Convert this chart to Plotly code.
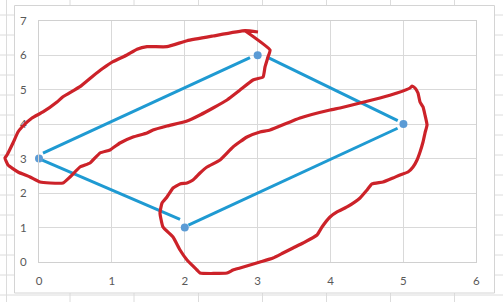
import plotly.graph_objects as go

# ---- data ----
point_x = [0, 3, 5, 2]
point_y = [3, 6, 4, 1]

# blue connector segments (start -> end)
seg_x0 = [0.055, 3.124, 0.037, 2.05]
seg_y0 = [3.16, 5.95, 2.96, 1.07]
seg_x1 = [2.895, 4.922, 1.935, 4.92]
seg_y1 = [5.93, 4.10, 1.24, 3.88]

# red hand-drawn loop around upper-left segment
loop1_x = [3.005, 2.827, 2.388, 2.031, 1.756, 1.482, 1.345, 1.207, 1.015, 0.878,
           0.741, 0.563, 0.329, 0.247, 0.055, -0.096, -0.233, -0.288, -0.357, -0.439,
           -0.467, -0.425, -0.288, -0.123, 0.014, 0.151, 0.329, 0.425, 0.563, 0.700,
           0.837, 0.974, 1.111, 1.290, 1.482, 1.564, 1.756, 2.031, 2.209, 2.388,
           2.580, 2.758, 2.936, 3.074, 3.101, 3.142, 3.170, 2.827]
loop1_y = [6.672, 6.710, 6.556, 6.420, 6.246, 6.246, 6.171, 6.005, 5.811, 5.619,
           5.396, 5.086, 4.795, 4.642, 4.352, 4.178, 3.916, 3.771, 3.452, 3.104,
           3.017, 2.814, 2.611, 2.466, 2.321, 2.292, 2.292, 2.466, 2.756, 2.872,
           3.162, 3.249, 3.452, 3.626, 3.742, 3.829, 3.945, 4.090, 4.265, 4.468,
           4.700, 4.990, 5.280, 5.367, 5.657, 5.947, 6.150, 6.710]

# red hand-drawn loop around lower-right segment
loop2_x = [2.484, 2.662, 2.854, 3.032, 3.170, 3.581, 3.993, 4.130, 4.405, 4.679,
           4.912, 5.091, 5.118, 5.159, 5.200, 5.228, 5.269, 5.296, 5.324, 5.296,
           5.269, 5.228, 5.187, 5.132, 5.063, 4.953, 4.857, 4.720, 4.569, 4.501,
           4.405, 4.226, 4.089, 3.993, 3.883, 3.815, 3.622, 3.485, 3.348, 3.211,
           3.032, 2.895, 2.758, 2.662, 2.580, 2.209, 2.168, 2.031, 1.935, 1.839,
           1.701, 1.660, 1.688, 1.756, 1.839, 1.935, 2.031, 2.113, 2.209, 2.305,
           2.484]
loop2_y = [2.959, 3.336, 3.626, 3.771, 3.829, 4.178, 4.410, 4.468, 4.613, 4.758,
           4.903, 5.048, 5.106, 5.048, 4.903, 4.642, 4.497, 4.265, 3.974, 3.742,
           3.481, 3.191, 2.959, 2.756, 2.611, 2.524, 2.437, 2.321, 2.263, 2.089,
           1.857, 1.596, 1.451, 1.305, 1.015, 0.783, 0.551, 0.406, 0.261, 0.116,
           0.000, -0.087, -0.174, -0.232, -0.319, -0.319, -0.232, 0.058, 0.348, 0.725,
           1.015, 1.422, 1.712, 1.886, 2.147, 2.263, 2.292, 2.379, 2.582, 2.756,
           2.959]

x_ticks = [0, 1, 2, 3, 4, 5, 6]
y_ticks = [0, 1, 2, 3, 4, 5, 6, 7]

# ---- layout geometry ----
W, H = 503, 302
XR = [0, 6]
YR = [0, 7]
xd = [39 / W, 476.3 / W]
yd = [(H - 262) / H, (H - 20.7) / H]


def full_range(r, d):
    span = (r[1] - r[0]) / (d[1] - d[0])
    return [r[0] - d[0] * span, r[1] + (1 - d[1]) * span]


fig = go.Figure()

# blue segments
sx, sy = [], []
for a, b, c, e in zip(seg_x0, seg_y0, seg_x1, seg_y1):
    sx += [a, c, None]
    sy += [b, e, None]
fig.add_trace(go.Scatter(x=sx, y=sy, mode="lines",
                         line=dict(color="#1F9AD2", width=3),
                         hoverinfo="skip", showlegend=False))
fig.add_trace(go.Scatter(x=point_x, y=point_y, mode="markers",
                         marker=dict(color="#5B9BD5", size=8),
                         showlegend=False, cliponaxis=False))

# red loops on a full-figure subplot (so they are not clipped)
for lx, ly in [(loop1_x, loop1_y), (loop2_x, loop2_y)]:
    fig.add_trace(go.Scatter(x=lx, y=ly, mode="lines", xaxis="x2", yaxis="y2",
                             line=dict(color="#CC2229", width=3.2, shape="spline", smoothing=0.4),
                             hoverinfo="skip", showlegend=False))

# spreadsheet cell lines + chart area
shapes = []
for px in [6.5, 70, 134, 198.5, 262.5, 326.5, 390.5, 454.5]:
    shapes.append(dict(type="line", xref="paper", yref="paper", layer="below",
                       x0=px / W, x1=px / W, y0=0, y1=1,
                       line=dict(color="#dcdcdc", width=1)))
for k in range(15):
    py = 15 + 20 * k
    shapes.append(dict(type="line", xref="paper", yref="paper", layer="below",
                       x0=0, x1=1, y0=1 - py / H, y1=1 - py / H,
                       line=dict(color="#dcdcdc", width=1)))
shapes.append(dict(type="rect", xref="paper", yref="paper", layer="below",
                   x0=14.5 / W, x1=494.5 / W, y0=1 - 293 / H, y1=1 - 5.5 / H,
                   fillcolor="white", line=dict(color="#d4d4d4", width=1)))

tickfont = dict(family="Lato, Open Sans, sans-serif", size=11.5, color="#595959")
fig.update_layout(
    width=W, height=H, autosize=False,
    margin=dict(l=0, r=0, t=0, b=0, pad=0, autoexpand=False),
    paper_bgcolor="white", plot_bgcolor="rgba(0,0,0,0)",
    shapes=shapes,
    xaxis=dict(domain=xd, range=XR, tickvals=x_ticks, ticktext=[str(v) for v in x_ticks],
               showgrid=True, gridcolor="#d9d9d9", gridwidth=1,
               showline=True, mirror=True, linecolor="#d0d0d0", linewidth=1, zeroline=False,
               ticks="", tickfont=tickfont, ticklabelstandoff=8, anchor="y",
               automargin=False),
    yaxis=dict(domain=yd, range=YR, tickvals=y_ticks, ticktext=[str(v) for v in y_ticks],
               showgrid=True, gridcolor="#d9d9d9", gridwidth=1,
               showline=True, mirror=True, linecolor="#d0d0d0", linewidth=1, zeroline=False,
               ticks="", tickfont=tickfont, ticklabelstandoff=9, anchor="x",
               automargin=False),
    xaxis2=dict(domain=[0, 1], range=full_range(XR, xd), visible=False, anchor="y2",
                fixedrange=True, automargin=False),
    yaxis2=dict(domain=[0, 1], range=full_range(YR, yd), visible=False, anchor="x2",
                fixedrange=True, automargin=False),
)

fig.write_html("out.html")
